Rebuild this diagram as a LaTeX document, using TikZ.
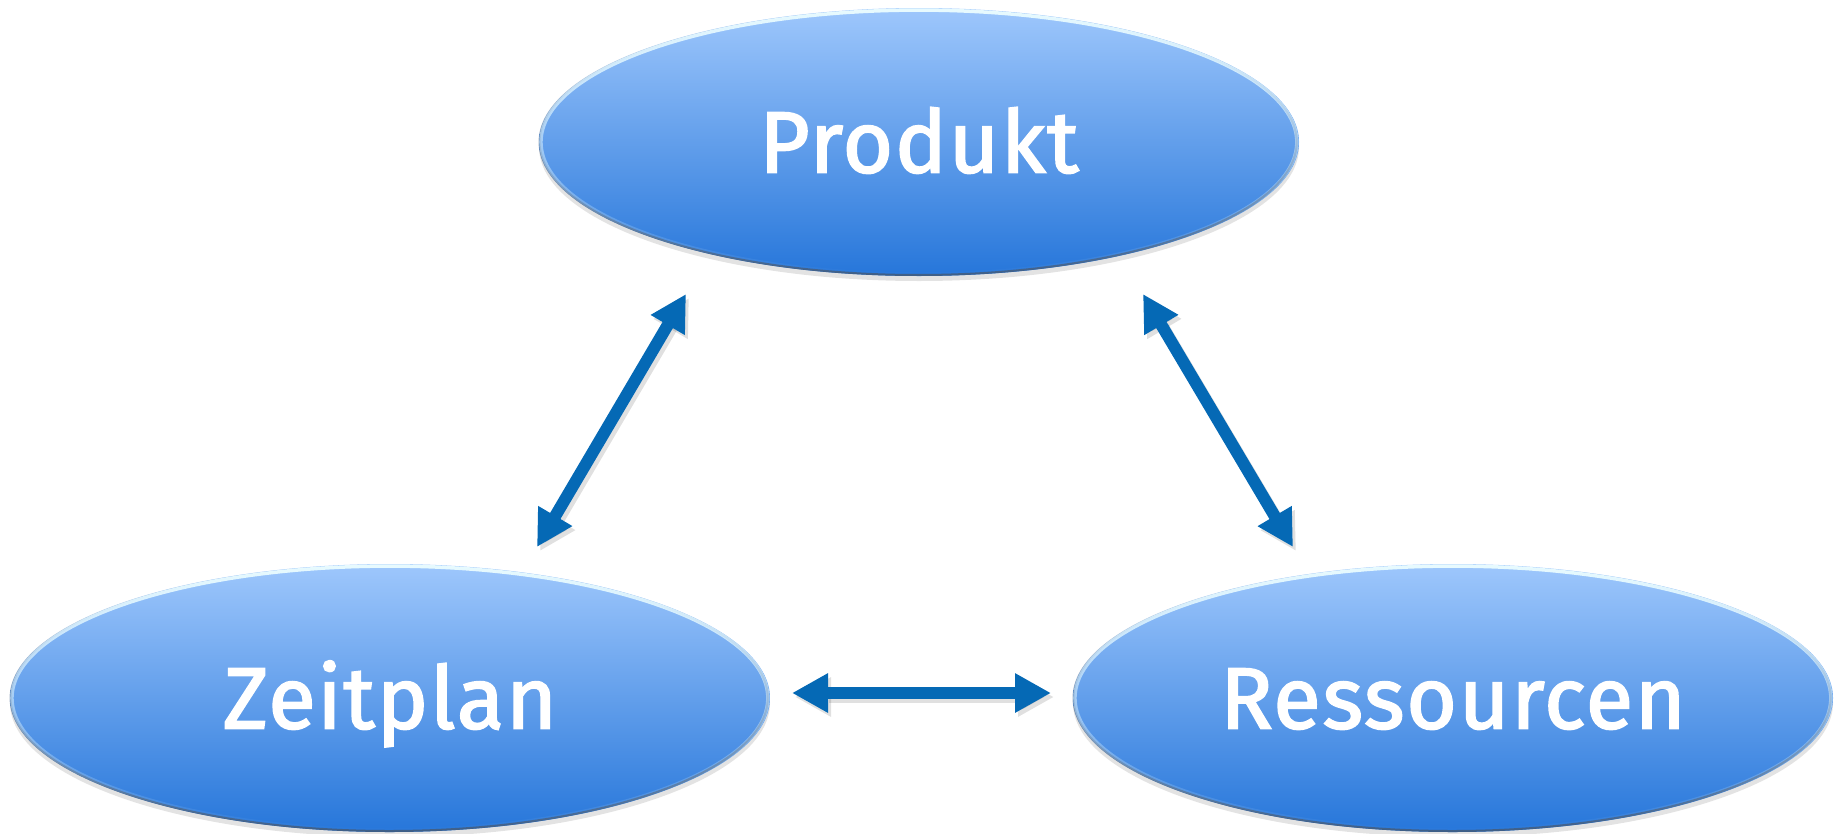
\documentclass[tikz,border=0pt]{standalone}
\usepackage{fontspec}
\setmainfont{Fira Sans}
\newfontfamily\lblfont[FakeBold=2,LetterSpace=2]{Fira Sans}
\usetikzlibrary{arrows.meta,shapes.geometric,shadows,fadings}
\definecolor{ellTop}{HTML}{9EC7FC}
\definecolor{ellMid}{HTML}{7FAEF5}
\definecolor{ellBot}{HTML}{2676DA}
\definecolor{ellEdge}{HTML}{3F5F88}
\definecolor{rimLight}{HTML}{E8FBFF}
\definecolor{arrowBlue}{HTML}{0569B5}
\tikzfading[name=rimfade, top color=transparent!0, middle color=transparent!100, bottom color=transparent!100]
\tikzfading[name=edgefade, top color=transparent!100, middle color=transparent!70, bottom color=transparent!0]
\tikzset{
  oval/.style={ellipse, minimum width=760pt, minimum height=268pt, inner sep=0pt,
    top color=ellTop, middle color=ellMid, bottom color=ellBot,
    drop shadow={shadow xshift=0pt, shadow yshift=-5pt, opacity=0.2, fill=black!55},
    text=white, font=\lblfont\fontsize{87}{96}\selectfont,
    text height=61pt, text depth=0pt},
  rimtop/.style={draw=rimLight, line width=3.5pt, path fading=rimfade},
  rimbot/.style={draw=ellEdge, line width=2pt, path fading=edgefade},
  dbl/.style={draw=arrowBlue, line width=12pt,
    {Triangle[width=37pt,length=36pt]}-{Triangle[width=37pt,length=36pt]}},
  dblshadow/.style={draw=black, opacity=0.12, line width=12pt,
    {Triangle[width=37pt,length=36pt]}-{Triangle[width=37pt,length=36pt]}}
}
\begin{document}
\begin{tikzpicture}[x=1pt,y=-1pt]
\useasboundingbox (0,0) rectangle (1839,833);
\node[oval] (prod) at (919,142) {Produkt};
\node[oval] (zeit) at (390,698) {Zeitplan};
\node[oval] (ress) at (1453,698) {Ressourcen};
% rims
\foreach \n in {prod,zeit,ress}{
  \draw[rimbot] (\n.center) ellipse [x radius=379, y radius=133];
  \draw[rimtop] (\n.center) ellipse [x radius=378, y radius=132];
}
% connector ends
\coordinate (pzA) at (686,294);
\coordinate (pzB) at (537,547);
\coordinate (prA) at (1143,294);
\coordinate (prB) at (1293,547);
\coordinate (zrA) at (792,693);
\coordinate (zrB) at (1051,693);
% shadows
\draw[dblshadow, transform canvas={xshift=3pt,yshift=-4pt}] (pzA) -- (pzB);
\draw[dblshadow, transform canvas={xshift=3pt,yshift=-4pt}] (prA) -- (prB);
\draw[dblshadow, transform canvas={xshift=3pt,yshift=-4pt}] (zrA) -- (zrB);
% arrows
\draw[dbl] (pzA) -- (pzB);
\draw[dbl] (prA) -- (prB);
\draw[dbl] (zrA) -- (zrB);
\end{tikzpicture}
\end{document}
